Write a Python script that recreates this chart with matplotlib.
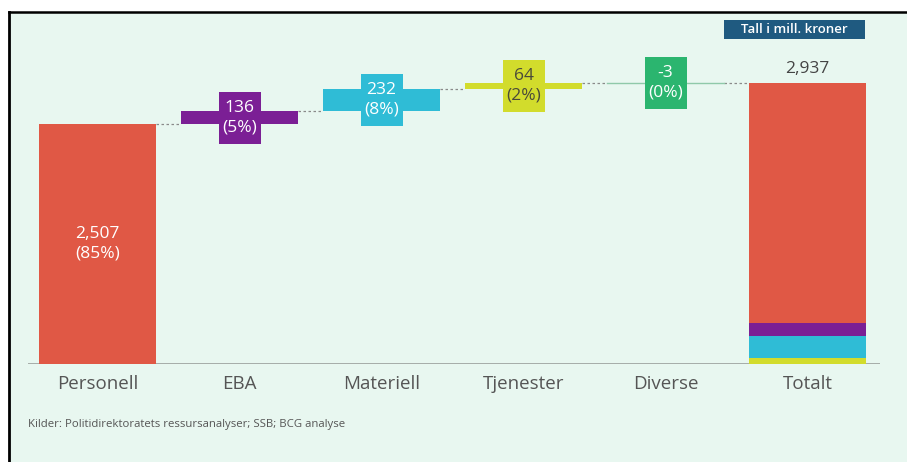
import matplotlib
matplotlib.use("Agg")
import matplotlib.pyplot as plt
from matplotlib.patches import Rectangle
from matplotlib.lines import Line2D

plt.rcParams['font.family'] = ['Open Sans', 'DejaVu Sans']

categories = ["Personell", "EBA", "Materiell", "Tjenester", "Diverse", "Totalt"]
values = [2507, 136, 232, 64, -3]
total = 2937
total_label = "2,937"
unit_label = "Tall i mill. kroner"
source = "Kilder: Politidirektoratets ressursanalyser; SSB; BCG analyse"

colors = ["#e05845", "#7b1f95", "#2fbcd6", "#d2dc2c", "#2bb56f"]
label_text_colors = ["white", "white", "white", "#4a4a3a", "white"]
bg = "#e8f7f0"

W, H = 907, 462
fig = plt.figure(figsize=(W / 100, H / 100), dpi=100)
fig.patch.set_facecolor("white")

# frame panel
panel = fig.add_axes([9 / W, 0, (W - 9) / W, (H - 13) / H])
panel.set_xlim(0, 1); panel.set_ylim(0, 1)
panel.axis("off")
panel.add_patch(Rectangle((0, 0), 1, 1, facecolor=bg, edgecolor="none", transform=panel.transAxes))
fig.add_artist(Line2D([8.5 / W, 8.5 / W], [0, (H - 12) / H], color="black", lw=2))
fig.add_artist(Line2D([8.5 / W, 1], [(H - 12) / H, (H - 12) / H], color="black", lw=1.8))

# main axes
base_px = 364
scale = 0.09568  # px per unit
top_val = 3600
ax_left, ax_right = 28, 880
ax = fig.add_axes([ax_left / W, (H - base_px) / H, (ax_right - ax_left) / W, top_val * scale / H])
ax.set_facecolor("none")
ax.set_xlim(-0.49, 5.51)
ax.set_ylim(0, top_val)
for s in ax.spines.values():
    s.set_visible(False)
ax.set_yticks([])
ax.set_xticks(range(len(categories)))
ax.set_xticklabels(categories, fontsize=13.5, color="#555555")
ax.tick_params(axis="x", length=0, pad=8)
ax.axhline(0, color="#9aa09c", lw=1.2, zorder=1)

bw = 0.825
box_w = 0.296
box_h = 545

cum = 0
tops = []
for i, v in enumerate(values):
    bottom = cum if v >= 0 else cum + v
    if i == 0:
        ax.bar(i, v, bottom=0, width=bw, color=colors[i], zorder=2)
        pct = int(round(v / total * 100))
        ax.text(i, v / 2, f"{v:,}\n({pct}%)", ha="center", va="center", color="white",
                fontsize=12.5, linespacing=1.3, zorder=4)
    else:
        if abs(v) < 10:
            ax.plot([i - bw / 2, i + bw / 2], [cum + v / 2] * 2, color="#8fc9a9", lw=1, zorder=2)
        else:
            ax.bar(i, abs(v), bottom=bottom, width=bw, color=colors[i], zorder=2)
        mid = cum + v / 2
        ax.add_patch(Rectangle((i - box_w / 2, mid - box_h / 2), box_w, box_h,
                               facecolor=colors[i], edgecolor="none", zorder=3))
        pct = int(round(v / total * 100))
        ax.text(i, mid, f"{v}\n({pct}%)", ha="center", va="center", color=label_text_colors[i],
                fontsize=12.5, linespacing=1.3, zorder=4)
    cum += v
    tops.append(cum)

# connectors
for i, t in enumerate(tops):
    ax.plot([i + bw / 2, i + 1 - bw / 2], [t, t], color="#8a8a8a", lw=0.9,
            ls=(0, (2, 2)), zorder=1)

# total stacked bar
ti = len(values)
stack_order = [3, 2, 1]
b = 0
for k in stack_order:
    ax.bar(ti, values[k], bottom=b, width=bw, color=colors[k], zorder=2)
    b += values[k]
ax.bar(ti, total - b, bottom=b, width=bw, color=colors[0], zorder=2)
ax.text(ti, total + 60, total_label, ha="center", va="bottom", color="#444444", fontsize=12.5)

# unit box
fig.add_artist(Rectangle((724 / W, (H - 39) / H), 141 / W, 19 / H, facecolor="#1f5a80",
                         edgecolor="none", transform=fig.transFigure))
fig.text(794.5 / W, (H - 29.5) / H, unit_label, ha="center", va="center", color="white",
         fontsize=9.5, fontweight="semibold")

fig.text(28 / W, (H - 425) / H, source, ha="left", va="center", color="#555555", fontsize=8.2)

fig.savefig("out.png", dpi=100, facecolor=fig.get_facecolor())
